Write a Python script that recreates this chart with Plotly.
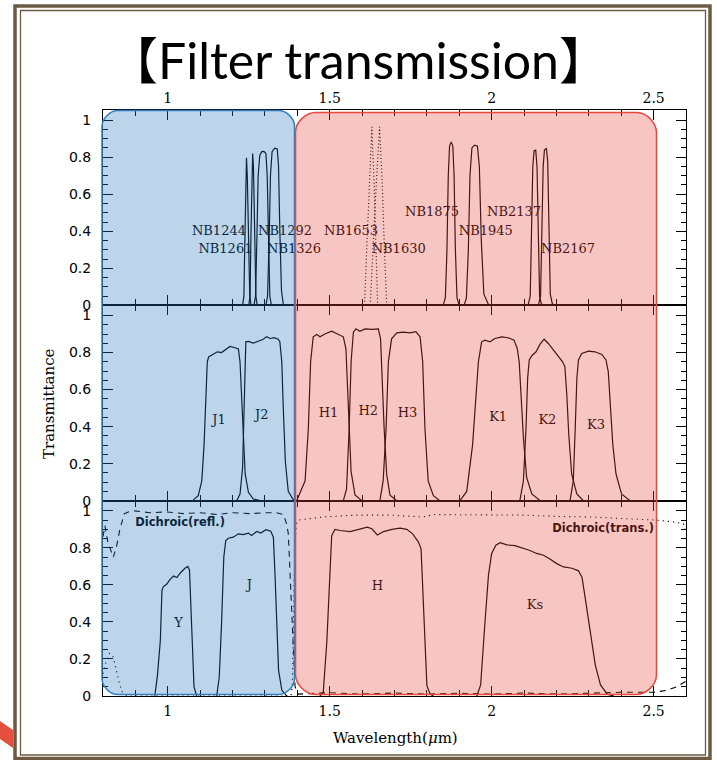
import plotly.graph_objects as go
from plotly.subplots import make_subplots

# ---------------- data (wavelength in micron, transmittance) ----------------
# top panel: narrow-band filters
nb1244_wl = [1.231, 1.235, 1.238, 1.2405, 1.243, 1.2455, 1.249, 1.253, 1.257]
nb1244_tr = [0.0, 0.05, 0.35, 0.70, 0.797, 0.70, 0.35, 0.06, 0.0]
nb1261_wl = [1.250, 1.254, 1.257, 1.2595, 1.262, 1.2645, 1.268, 1.272, 1.276]
nb1261_tr = [0.0, 0.05, 0.40, 0.75, 0.82, 0.75, 0.35, 0.05, 0.0]
nb1292_wl = [1.266, 1.271, 1.275, 1.279, 1.284, 1.290, 1.297, 1.303, 1.307, 1.311, 1.315, 1.320]
nb1292_tr = [0.0, 0.05, 0.35, 0.70, 0.81, 0.83, 0.832, 0.82, 0.70, 0.35, 0.05, 0.0]
nb1326_wl = [1.303, 1.308, 1.313, 1.317, 1.322, 1.330, 1.338, 1.342, 1.346, 1.351, 1.357]
nb1326_tr = [0.0, 0.05, 0.35, 0.70, 0.83, 0.849, 0.845, 0.75, 0.40, 0.08, 0.0]
nb1630_wl = [1.607, 1.614, 1.621, 1.630, 1.637, 1.643, 1.648]
nb1630_tr = [0.0, 0.30, 0.62, 0.964, 0.66, 0.30, 0.0]
nb1653_wl = [1.625, 1.633, 1.642, 1.654, 1.662, 1.669, 1.676]
nb1653_tr = [0.0, 0.30, 0.60, 0.964, 0.66, 0.30, 0.0]
nb1875_wl = [1.850, 1.857, 1.862, 1.866, 1.870, 1.875, 1.880, 1.884, 1.888, 1.893, 1.900]
nb1875_tr = [0.0, 0.04, 0.30, 0.70, 0.86, 0.883, 0.86, 0.70, 0.30, 0.04, 0.0]
nb1945_wl = [1.915, 1.922, 1.928, 1.933, 1.939, 1.947, 1.956, 1.962, 1.968, 1.976, 1.990, 1.998]
nb1945_tr = [0.0, 0.04, 0.30, 0.70, 0.85, 0.865, 0.86, 0.75, 0.35, 0.06, 0.005, 0.0]
nb2137_wl = [2.113, 2.119, 2.123, 2.127, 2.131, 2.136, 2.140, 2.144, 2.148, 2.153, 2.158]
nb2137_tr = [0.005, 0.05, 0.40, 0.75, 0.835, 0.838, 0.75, 0.35, 0.05, 0.01, 0.0]
nb2167_wl = [2.145, 2.151, 2.155, 2.159, 2.163, 2.169, 2.173, 2.177, 2.181, 2.187, 2.192]
nb2167_tr = [0.005, 0.05, 0.40, 0.75, 0.84, 0.847, 0.78, 0.40, 0.06, 0.01, 0.0]

# middle panel: medium-band filters
j1_wl = [1.079, 1.094, 1.105, 1.112, 1.118, 1.122, 1.126, 1.141, 1.153, 1.166, 1.180, 1.192,
         1.208, 1.218, 1.223, 1.228, 1.233, 1.239, 1.249, 1.264, 1.285]
j1_tr = [0.004, 0.027, 0.107, 0.30, 0.57, 0.75, 0.776, 0.79, 0.804, 0.80, 0.82, 0.833,
         0.826, 0.819, 0.75, 0.572, 0.34, 0.143, 0.045, 0.009, 0.0]
j2_wl = [1.213, 1.223, 1.231, 1.235, 1.238, 1.241, 1.249, 1.264, 1.279, 1.295, 1.305, 1.316,
         1.328, 1.341, 1.346, 1.352, 1.357, 1.363, 1.372, 1.386, 1.397]
j2_tr = [0.0, 0.036, 0.179, 0.39, 0.66, 0.858, 0.86, 0.851, 0.863, 0.872, 0.886, 0.876,
         0.88, 0.872, 0.858, 0.75, 0.48, 0.21, 0.05, 0.009, 0.0]
h1_wl = [1.398, 1.424, 1.434, 1.441, 1.449, 1.460, 1.470, 1.485, 1.506, 1.526, 1.542, 1.550,
         1.554, 1.560, 1.566, 1.578, 1.599]
h1_tr = [0.0, 0.107, 0.39, 0.75, 0.885, 0.897, 0.885, 0.90, 0.915, 0.90, 0.885, 0.82,
         0.66, 0.39, 0.157, 0.031, 0.0]
h2_wl = [1.542, 1.552, 1.560, 1.566, 1.573, 1.581, 1.593, 1.609, 1.630, 1.650, 1.657, 1.661,
         1.668, 1.676, 1.686, 1.707]
h2_tr = [0.0, 0.063, 0.39, 0.75, 0.91, 0.928, 0.915, 0.928, 0.925, 0.928, 0.874, 0.66,
         0.39, 0.14, 0.03, 0.0]
h3_wl = [1.655, 1.665, 1.674, 1.681, 1.691, 1.707, 1.727, 1.748, 1.766, 1.779, 1.787, 1.794,
         1.804, 1.820, 1.840]
h3_tr = [0.0, 0.107, 0.39, 0.75, 0.874, 0.906, 0.91, 0.906, 0.913, 0.885, 0.75, 0.39,
         0.107, 0.027, 0.0]
k1_wl = [1.902, 1.923, 1.941, 1.952, 1.959, 1.969, 1.979, 1.995, 2.010, 2.031, 2.051, 2.069,
         2.079, 2.085, 2.091, 2.098, 2.108, 2.124, 2.150]
k1_tr = [0.0, 0.05, 0.30, 0.57, 0.75, 0.858, 0.867, 0.858, 0.876, 0.885, 0.88, 0.867,
         0.822, 0.75, 0.572, 0.34, 0.125, 0.036, 0.0]
k2_wl = [2.087, 2.098, 2.106, 2.111, 2.116, 2.124, 2.137, 2.149, 2.162, 2.175, 2.191, 2.206,
         2.219, 2.226, 2.232, 2.238, 2.247, 2.263, 2.283]
k2_tr = [0.0, 0.107, 0.39, 0.66, 0.76, 0.783, 0.804, 0.844, 0.872, 0.849, 0.813, 0.778,
         0.75, 0.724, 0.572, 0.358, 0.143, 0.036, 0.0]
k3_wl = [2.242, 2.252, 2.258, 2.263, 2.268, 2.278, 2.299, 2.319, 2.340, 2.353, 2.360, 2.367,
         2.374, 2.384, 2.401, 2.427]
k3_tr = [0.0, 0.107, 0.39, 0.66, 0.76, 0.795, 0.808, 0.804, 0.79, 0.76, 0.697, 0.483,
         0.304, 0.143, 0.036, 0.0]

# bottom panel: broad-band filters and dichroic
y_wl = [0.960, 0.968, 0.977, 0.982, 0.986, 0.997, 1.007, 1.018, 1.028, 1.038, 1.053, 1.062,
        1.067, 1.071, 1.076, 1.081, 1.089]
y_tr = [0.0, 0.11, 0.30, 0.57, 0.59, 0.605, 0.63, 0.648, 0.64, 0.663, 0.69, 0.70,
        0.68, 0.48, 0.21, 0.05, 0.0]
j_wl = [1.151, 1.159, 1.166, 1.173, 1.179, 1.187, 1.202, 1.218, 1.233, 1.249, 1.259, 1.275,
        1.287, 1.303, 1.318, 1.326, 1.331, 1.336, 1.342, 1.352, 1.367]
j_tr = [0.0, 0.104, 0.39, 0.75, 0.84, 0.852, 0.858, 0.876, 0.872, 0.88, 0.867, 0.889,
        0.88, 0.898, 0.89, 0.858, 0.66, 0.39, 0.14, 0.032, 0.0]
h_wl = [1.470, 1.480, 1.491, 1.499, 1.506, 1.516, 1.532, 1.563, 1.593, 1.616, 1.630, 1.647,
        1.666, 1.692, 1.717, 1.738, 1.756, 1.774, 1.782, 1.788, 1.793, 1.800, 1.810, 1.820]
h_tr = [0.0, 0.02, 0.29, 0.65, 0.866, 0.90, 0.894, 0.888, 0.90, 0.912, 0.903, 0.87,
        0.888, 0.90, 0.907, 0.90, 0.876, 0.831, 0.795, 0.56, 0.29, 0.056, 0.01, 0.0]
ks_wl = [1.954, 1.966, 1.979, 1.990, 2.000, 2.013, 2.026, 2.047, 2.072, 2.098, 2.118, 2.139,
         2.160, 2.181, 2.201, 2.222, 2.248, 2.268, 2.279, 2.289, 2.305, 2.320, 2.336, 2.357, 2.377]
ks_tr = [0.0, 0.06, 0.39, 0.65, 0.77, 0.814, 0.828, 0.816, 0.812, 0.798, 0.786, 0.77,
         0.76, 0.739, 0.715, 0.697, 0.69, 0.676, 0.64, 0.527, 0.33, 0.167, 0.06, 0.01, 0.0]
refl_wl = [0.800, 0.806, 0.815, 0.832, 0.842, 0.852, 0.866, 0.880, 0.894, 0.945, 0.997, 1.048,
           1.100, 1.151, 1.202, 1.254, 1.305, 1.336, 1.357, 1.366, 1.372, 1.379, 1.3875, 1.393,
           1.403, 1.43, 1.5, 1.6, 1.7, 1.8, 1.9, 2.0, 2.1, 2.2, 2.3, 2.4, 2.5, 2.54, 2.571, 2.6]
refl_tr = [0.86, 0.92, 0.83, 0.75, 0.81, 0.90, 0.985, 0.995, 1.0, 0.99, 0.994, 0.985,
           0.99, 0.98, 0.99, 0.985, 0.99, 0.99, 0.98, 0.935, 0.88, 0.61, 0.34, 0.05,
           0.01, 0.012, 0.018, 0.01, 0.016, 0.01, 0.015, 0.01, 0.016, 0.01, 0.015, 0.02, 0.02, 0.03, 0.05, 0.08]
trans_wl = [0.800, 0.810, 0.820, 0.830, 0.840, 0.850, 0.860, 0.875, 1.380, 1.3845, 1.388, 1.392,
            1.397, 1.403, 1.48, 1.583, 1.686, 1.789, 1.82, 1.892, 1.995, 2.098, 2.2, 2.304,
            2.407, 2.509, 2.561, 2.592, 2.6]
trans_tr = [0.12, 0.19, 0.23, 0.22, 0.15, 0.07, 0.02, 0.0, 0.0, 0.05, 0.40, 0.80,
            0.93, 0.95, 0.967, 0.977, 0.977, 0.967, 0.98, 0.98, 0.98, 0.977, 0.97, 0.967,
            0.958, 0.95, 0.94, 0.93, 0.88]

# labels
top_labels = ["NB1244", "NB1261", "NB1292", "NB1326", "NB1653", "NB1630",
              "NB1875", "NB1945", "NB2137", "NB2167"]
top_lab_x = [1.158, 1.178, 1.362, 1.390, 1.566, 1.713, 1.816, 1.982, 2.069, 2.236]
top_lab_y = [0.40, 0.30, 0.40, 0.30, 0.40, 0.30, 0.50, 0.40, 0.50, 0.30]
mid_labels = ["J1", "J2", "H1", "H2", "H3", "K1", "K2", "K3"]
mid_lab_x = [1.158, 1.290, 1.496, 1.619, 1.740, 2.020, 2.172, 2.322]
mid_lab_y = [0.432, 0.459, 0.469, 0.478, 0.469, 0.447, 0.429, 0.405]
bot_labels = ["Y", "J", "H", "Ks"]
bot_lab_x = [1.033, 1.252, 1.647, 2.134]
bot_lab_y = [0.39, 0.595, 0.59, 0.49]
dich_labels = ["Dichroic(refl.)", "Dichroic(trans.)"]
dich_lab_x = [1.038, 2.344]
dich_lab_y = [0.935, 0.90]

x_range = [0.8, 2.6]
y_range = [0, 1.055]

# ---------------- figure ----------------
W, H = 717, 760
ML, MR, MT, MB = 103, 31, 110, 64
PW = W - ML - MR
PH = H - MT - MB


def pxp(x):
    return (x - ML) / PW


def pyp(y):
    return (H - MB - y) / PH


fig = make_subplots(rows=3, cols=1, vertical_spacing=0)

LINE = dict(color="black", width=1.2)
SERIF = "DejaVu Serif"
DOT = "1px,2.5px"

top = [(nb1244_wl, nb1244_tr, "solid"), (nb1261_wl, nb1261_tr, "solid"),
       (nb1292_wl, nb1292_tr, "solid"), (nb1326_wl, nb1326_tr, "solid"),
       (nb1630_wl, nb1630_tr, DOT), (nb1653_wl, nb1653_tr, DOT),
       (nb1875_wl, nb1875_tr, "solid"), (nb1945_wl, nb1945_tr, "solid"),
       (nb2137_wl, nb2137_tr, "solid"), (nb2167_wl, nb2167_tr, "solid")]
for xs, ys, d in top:
    fig.add_trace(go.Scatter(x=xs, y=ys, mode="lines",
                             line=dict(color="black", width=1.2, dash=d),
                             showlegend=False, hoverinfo="skip"), row=1, col=1)

for xs, ys in [(j1_wl, j1_tr), (j2_wl, j2_tr), (h1_wl, h1_tr), (h2_wl, h2_tr),
               (h3_wl, h3_tr), (k1_wl, k1_tr), (k2_wl, k2_tr), (k3_wl, k3_tr)]:
    fig.add_trace(go.Scatter(x=xs, y=ys, mode="lines", line=LINE,
                             showlegend=False, hoverinfo="skip"), row=2, col=1)

for xs, ys in [(y_wl, y_tr), (j_wl, j_tr), (h_wl, h_tr), (ks_wl, ks_tr)]:
    fig.add_trace(go.Scatter(x=xs, y=ys, mode="lines", line=LINE,
                             showlegend=False, hoverinfo="skip"), row=3, col=1)
fig.add_trace(go.Scatter(x=refl_wl, y=refl_tr, mode="lines",
                         line=dict(color="black", width=1.1, dash="6px,5px"),
                         showlegend=False, hoverinfo="skip"), row=3, col=1)
fig.add_trace(go.Scatter(x=trans_wl, y=trans_tr, mode="lines",
                         line=dict(color="black", width=1.1, dash="1.2px,4px"),
                         showlegend=False, hoverinfo="skip"), row=3, col=1)

# text labels (as traces so the translucent overlays tint them)
for row, labs, lx, ly in [(1, top_labels, top_lab_x, top_lab_y),
                          (2, mid_labels, mid_lab_x, mid_lab_y),
                          (3, bot_labels, bot_lab_x, bot_lab_y)]:
    fig.add_trace(go.Scatter(x=lx, y=ly, mode="text", text=labs,
                             textposition="middle center",
                             textfont=dict(family=SERIF, size=13, color="black"),
                             showlegend=False, hoverinfo="skip"), row=row, col=1)
fig.add_trace(go.Scatter(x=dich_lab_x, y=dich_lab_y, mode="text", text=dich_labels,
                         textposition="middle center",
                         textfont=dict(family="DejaVu Sans", size=11.5, color="black",
                                       weight="bold"),
                         showlegend=False, hoverinfo="skip"), row=3, col=1)

# axes
for r in (1, 2, 3):
    fig.update_xaxes(range=x_range, showgrid=False, zeroline=False,
                     showline=True, linecolor="black", linewidth=1.1, mirror="ticks",
                     ticks="inside", ticklen=10, tickwidth=1.3, tickcolor="black",
                     tick0=0, dtick=0.5,
                     minor=dict(ticks="inside", ticklen=6, dtick=0.1, tick0=0,
                                tickcolor="black", tickwidth=1.1),
                     tickfont=dict(family=SERIF, size=14, color="black"),
                     ticklabelstandoff=(0 if r == 1 else 2),
                     showticklabels=(r != 2), side=("top" if r == 1 else "bottom"),
                     row=r, col=1)
    fig.update_yaxes(range=y_range, showgrid=False, zeroline=False,
                     showline=True, linecolor="black", linewidth=1.1, mirror="ticks",
                     ticks="inside", ticklen=10, tickwidth=1.3, tickcolor="black",
                     tick0=0, dtick=0.2,
                     minor=dict(ticks="inside", ticklen=5, dtick=0.05, tick0=0,
                                tickcolor="black", tickwidth=1.0),
                     tickfont=dict(family="DejaVu Sans", size=14, color="black"),
                     ticklabelstandoff=8,
                     row=r, col=1)


def rrect(x0, x1, y0, y1, r):
    rx, ry = r / PW, r / PH
    k = 0.448
    X0, X1, Yt, Yb = pxp(x0), pxp(x1), pyp(y0), pyp(y1)
    return (f"M {X0+rx},{Yt} L {X1-rx},{Yt} "
            f"C {X1-rx*k},{Yt} {X1},{Yt-ry*(1-k)} {X1},{Yt-ry} "
            f"L {X1},{Yb+ry} "
            f"C {X1},{Yb+ry*k} {X1-rx*(1-k)},{Yb} {X1-rx},{Yb} "
            f"L {X0+rx},{Yb} "
            f"C {X0+rx*k},{Yb} {X0},{Yb+ry*(1-k)} {X0},{Yb+ry} "
            f"L {X0},{Yt-ry} "
            f"C {X0},{Yt-ry*k} {X0+rx*(1-k)},{Yt} {X0+rx},{Yt} Z")


shapes = [
    dict(type="path", xref="paper", yref="paper", layer="above",
         path=rrect(102, 294.5, 110.5, 694.5, 16),
         fillcolor="rgba(40,120,190,0.31)", line=dict(color="#2f7fc0", width=1.5)),
    dict(type="path", xref="paper", yref="paper", layer="above",
         path=rrect(295.5, 656.5, 112.5, 694.5, 20),
         fillcolor="rgba(230,70,60,0.31)", line=dict(color="#e8473b", width=1.5)),
    # slide frame
    dict(type="rect", xref="paper", yref="paper", layer="below",
         x0=pxp(15), x1=pxp(710), y0=pyp(6), y1=pyp(758.5),
         line=dict(color="#6d5a43", width=3.5)),
    dict(type="rect", xref="paper", yref="paper", layer="below",
         x0=pxp(20.5), x1=pxp(705.5), y0=pyp(10.5), y1=pyp(755),
         line=dict(color="#6d5a43", width=1.3)),
    dict(type="path", xref="paper", yref="paper", layer="below",
         path=f"M {pxp(0)},{pyp(721)} L {pxp(13)},{pyp(730)} L {pxp(13)},{pyp(748)} L {pxp(0)},{pyp(739)} Z",
         fillcolor="#e4503c", line=dict(width=0)),
]

annotations = [
    dict(text="【Filter transmission】", xref="paper", yref="paper",
         x=pxp(358), y=pyp(60), xanchor="center", yanchor="middle", showarrow=False,
         font=dict(family="Lato, Noto Sans CJK JP", size=50, color="black")),
    dict(text="Transmittance", xref="paper", yref="paper",
         x=pxp(49), y=pyp(404), xanchor="center", yanchor="middle", showarrow=False,
         textangle=-90, font=dict(family=SERIF, size=15, color="black")),
    dict(text="Wavelength(<i>μ</i>m)", xref="paper", yref="paper",
         x=pxp(395), y=pyp(738), xanchor="center", yanchor="middle", showarrow=False,
         font=dict(family=SERIF, size=15, color="black")),
]

fig.update_layout(width=W, height=H, margin=dict(l=ML, r=MR, t=MT, b=MB),
                  paper_bgcolor="white", plot_bgcolor="white",
                  shapes=shapes, annotations=annotations, showlegend=False)

fig.write_html("out.html")
